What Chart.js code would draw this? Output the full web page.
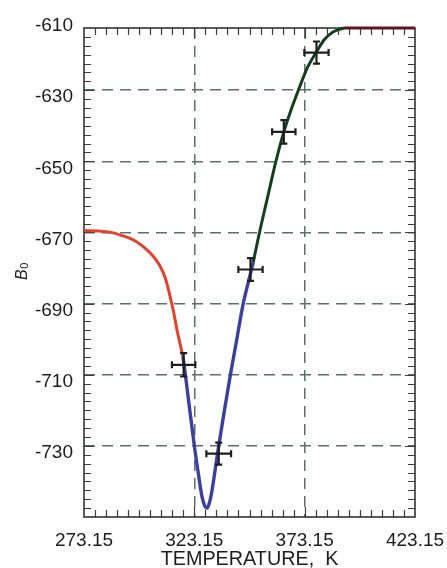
<!DOCTYPE html>
<html>
<head>
<meta charset="utf-8">
<script src="https://cdn.jsdelivr.net/npm/chart.js@4.4.1/dist/chart.umd.min.js"></script>
<style>
  html, body { margin: 0; padding: 0; background: #ffffff; }
  canvas { display: block; }
</style>
</head>
<body>
<canvas id="chart" width="447" height="568"></canvas>
<script>
// B0 against temperature (K): three fitted branches plus the high-temperature plateau
const redT = [273.15, 280, 285, 290, 295.6, 300, 304.7, 307, 309.2, 310.8, 312.2, 313.8, 315.3, 316.7, 318.0];
const redB = [-669.5, -669.6, -669.9, -670.8, -672.1, -674.0, -676.8, -678.8, -681.5, -684.5, -688.1, -692.5, -697.4, -701.3, -704.9];

const blueT = [318.0, 319.1, 321.1, 323.15, 324.9, 326.6, 327.8, 328.9, 330.0, 331.2, 332.7, 334.2, 336.8, 339.5, 342.4, 345.3, 347.6, 349.8];
const blueB = [-704.9, -710.0, -720.0, -730.0, -737.5, -744.2, -746.8, -747.5, -746.0, -742.4, -736.2, -730.0, -720.0, -710.0, -700.0, -690.0, -684.0, -678.5];

const greenT = [349.8, 352.5, 356.2, 360.0, 363.7, 367.0, 370.6, 374.5, 378.5, 382.0, 386.0, 391.0];
const greenB = [-678.5, -670.5, -660.5, -650.3, -641.7, -635.5, -629.5, -623.5, -619.2, -615.8, -613.6, -612.5];

const plateauT = [391.0, 423.15];
const plateauB = [-612.5, -612.5];

// Measured points with their uncertainties
const pointT = [318.3, 334.2, 348.6, 363.7, 378.5];
const pointB = [-707.2, -732.2, -680.4, -641.7, -619.4];
const errT = [5.3, 5.6, 5.5, 5.3, 5.5];
const errB = [3.3, 3.1, 3.2, 3.3, 3.1];

// Axes
const xMin = 273.15, xMax = 423.15;
const yMin = -750, yMax = -612.5;
const xTicks = [273.15, 323.15, 373.15, 423.15];
const yTicks = [-730, -710, -690, -670, -650, -630, -610];
const xMinorStep = 5;
const yMinorStep = 2.5;

const pairs = (xs, ys) => xs.map((v, i) => ({ x: v, y: ys[i] }));

// Box frame with inward major/minor ticks on all four sides
const framePlugin = {
  id: 'frame',
  beforeDatasetsDraw(chart) {
    const { ctx, chartArea: a, scales: { x, y } } = chart;
    ctx.save();
    ctx.strokeStyle = '#3c3c3c';
    ctx.lineWidth = 1.2;
    ctx.beginPath();
    for (let t = xMin + xMinorStep; t < xMax - 0.01; t += xMinorStep) {
      const px = Math.round(x.getPixelForValue(t)) + 0.5;
      const major = xTicks.some(v => Math.abs(v - t) < 0.01);
      const len = major ? 10 : 7;
      ctx.moveTo(px, a.bottom); ctx.lineTo(px, a.bottom - len);
      ctx.moveTo(px, a.top); ctx.lineTo(px, a.top + len);
    }
    for (let v = yMin + yMinorStep; v < yMax - 0.01; v += yMinorStep) {
      const py = Math.round(y.getPixelForValue(v)) + 0.5;
      const major = yTicks.some(k => Math.abs(k - v) < 0.01);
      const len = major ? 10 : 7;
      ctx.moveTo(a.left, py); ctx.lineTo(a.left + len, py);
      ctx.moveTo(a.right, py); ctx.lineTo(a.right - len, py);
    }
    ctx.stroke();
    ctx.strokeStyle = '#333333';
    ctx.lineWidth = 1.6;
    ctx.strokeRect(a.left, a.top, a.right - a.left, a.bottom - a.top);
    ctx.restore();
  }
};

// Cross-shaped error bars on the measured points
const errorBarPlugin = {
  id: 'errorBars',
  afterDatasetsDraw(chart) {
    const { ctx, scales: { x, y } } = chart;
    const cap = 3.5;
    ctx.save();
    ctx.strokeStyle = '#1e1e1e';
    ctx.lineWidth = 2.2;
    ctx.beginPath();
    pointT.forEach((t, i) => {
      const cx = x.getPixelForValue(t);
      const cy = y.getPixelForValue(pointB[i]);
      const x0 = x.getPixelForValue(t - errT[i]);
      const x1 = x.getPixelForValue(t + errT[i]);
      const y0 = y.getPixelForValue(pointB[i] + errB[i]);
      const y1 = y.getPixelForValue(pointB[i] - errB[i]);
      ctx.moveTo(x0, cy); ctx.lineTo(x1, cy);
      ctx.moveTo(x0, cy - cap); ctx.lineTo(x0, cy + cap);
      ctx.moveTo(x1, cy - cap); ctx.lineTo(x1, cy + cap);
      ctx.moveTo(cx, y0); ctx.lineTo(cx, y1);
      ctx.moveTo(cx - cap, y0); ctx.lineTo(cx + cap, y0);
      ctx.moveTo(cx - cap, y1); ctx.lineTo(cx + cap, y1);
    });
    ctx.stroke();
    ctx.restore();
  }
};

// Rotated y-axis title: italic B with subscript 0
const yTitlePlugin = {
  id: 'yTitle',
  afterDraw(chart) {
    const { ctx, chartArea: a } = chart;
    const cy = (a.top + a.bottom) / 2 - 1;
    ctx.save();
    ctx.translate(0, cy);
    ctx.rotate(-Math.PI / 2);
    ctx.fillStyle = '#222222';
    ctx.textBaseline = 'alphabetic';
    ctx.font = 'italic 16px "Liberation Sans", Arial, sans-serif';
    const wB = ctx.measureText('B').width;
    ctx.font = '11px "Liberation Sans", Arial, sans-serif';
    const w0 = ctx.measureText('0').width;
    const start = -(wB + w0) / 2;
    ctx.font = 'italic 16px "Liberation Sans", Arial, sans-serif';
    ctx.fillText('B', start, 27);
    ctx.font = '11px "Liberation Sans", Arial, sans-serif';
    ctx.fillText('0', start + wB + 0.5, 28);
    ctx.restore();
  }
};

const lineStyle = (color, width) => ({
  showLine: true,
  borderColor: color,
  backgroundColor: color,
  borderWidth: width,
  pointRadius: 0,
  pointHoverRadius: 0,
  cubicInterpolationMode: 'monotone',
  clip: false,
  fill: false
});

new Chart(document.getElementById('chart'), {
  type: 'scatter',
  data: {
    datasets: [
      { label: 'low', data: pairs(redT, redB), ...lineStyle('#e2422c', 3) },
      { label: 'mid', data: pairs(blueT, blueB), ...lineStyle('#3a419c', 3.4) },
      { label: 'high', data: pairs(greenT, greenB), ...lineStyle('#12401a', 3) },
      { label: 'plateau', data: pairs(plateauT, plateauB), ...lineStyle('#5c1820', 3.2) }
    ]
  },
  options: {
    responsive: false,
    animation: false,
    events: [],
    layout: { padding: { top: 28, right: 32, left: 0, bottom: 0 } },
    plugins: {
      legend: { display: false },
      tooltip: { enabled: false }
    },
    scales: {
      x: {
        type: 'linear',
        min: xMin,
        max: xMax,
        afterBuildTicks(scale) { scale.ticks = xTicks.map(v => ({ value: v })); },
        afterFit(scale) {
          scale.height = 51;
          scale.paddingLeft = 0;
          scale.paddingRight = 0;
        },
        border: { display: false, dash: [11, 7] },
        grid: {
          drawTicks: false,
          lineWidth: 1.5,
          color: ctx => (ctx.tick && (ctx.tick.value === xMin || ctx.tick.value === xMax)) ? 'rgba(0,0,0,0)' : '#57716d'
        },
        ticks: {
          autoSkip: false,
          maxRotation: 0,
          padding: 12,
          color: '#1c1c1c',
          font: { family: '"Liberation Sans", Arial, sans-serif', size: 19 },
          callback: v => Number(v).toFixed(2)
        },
        title: {
          display: true,
          text: 'TEMPERATURE,  K',
          color: '#1c1c1c',
          padding: { top: 0, bottom: 0 },
          font: { family: '"Liberation Sans", Arial, sans-serif', size: 19.8, lineHeight: 0.82 }
        }
      },
      y: {
        type: 'linear',
        min: yMin,
        max: yMax,
        afterBuildTicks(scale) { scale.ticks = yTicks.map(v => ({ value: v })); },
        afterFit(scale) {
          scale.width = 84;
          scale.paddingTop = 0;
          scale.paddingBottom = 0;
        },
        border: { display: false, dash: [11, 7] },
        grid: {
          drawTicks: false,
          lineWidth: 1.5,
          color: ctx => (ctx.tick && ctx.tick.value > yMax - 0.01) ? 'rgba(0,0,0,0)' : '#57716d'
        },
        ticks: {
          autoSkip: false,
          padding: 11,
          labelOffset: 7,
          color: '#1c1c1c',
          font: { family: '"Liberation Sans", Arial, sans-serif', size: 19 },
          callback: v => String(v)
        }
      }
    }
  },
  plugins: [framePlugin, errorBarPlugin, yTitlePlugin]
});
</script>
</body>
</html>
